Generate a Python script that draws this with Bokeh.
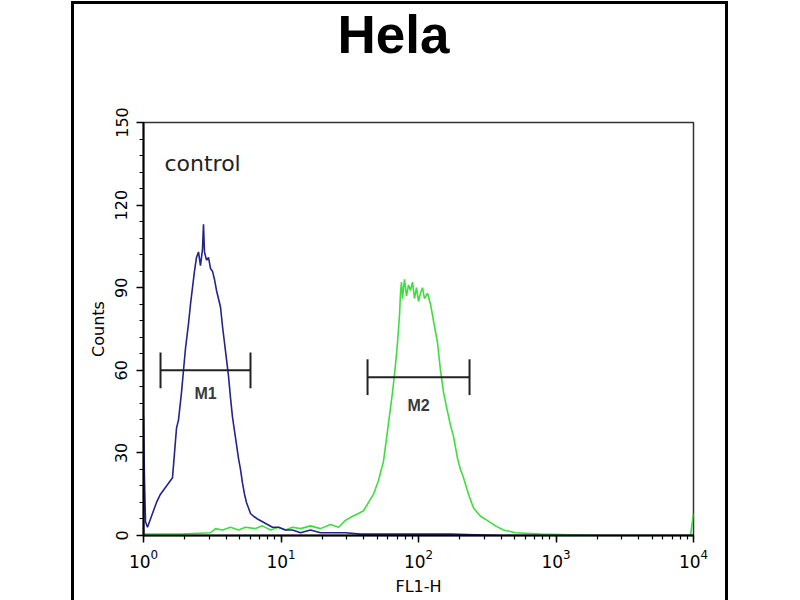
from bokeh.plotting import figure
from bokeh.models import (FixedTicker, LogTicker, Label, ColumnDataSource, Range1d, Title,
                          InlineStyleSheet)
from bokeh.core.properties import value
from bokeh.embed import file_html
from bokeh.resources import INLINE

title_text = "Hela"
x_label = "FL1-H"
y_label = "Counts"
sample_label = "control"

y_ticks = [0, 30, 60, 90, 120, 150]
y_minor = [6, 12, 18, 24, 36, 42, 48, 54, 66, 72, 78, 84, 96, 102, 108, 114, 126, 132, 138, 144]

# control histogram (blue)
ctrl_x = [1.0, 1.0, 1.017, 1.034, 1.069, 1.124, 1.182, 1.243, 1.329, 1.421, 1.520, 1.625, 1.681, 1.738,
          1.797, 1.890, 1.954, 2.021, 2.125, 2.197, 2.272, 2.349, 2.429, 2.512, 2.597, 2.686, 2.731,
          2.777, 2.872, 2.970, 3.071, 3.175, 3.284, 3.395, 3.511, 3.631, 3.754, 3.882, 4.015, 4.151,
          4.293, 4.439, 4.590, 4.747, 4.909, 5.076, 5.248, 5.427, 5.612, 5.803, 6.001, 6.310, 6.748,
          7.337, 7.976, 8.675, 9.590, 10.78, 12.12, 13.87, 16.39, 19.38, 22.91, 29.45, 37.86, 73.96,
          170.9, 394.8, 10000]
ctrl_y = [0, 43, 20, 5, 3, 6, 9, 12, 15, 17, 19, 21, 30, 39,
          42, 52, 60, 68, 77, 84, 90, 96, 101, 103, 98, 104, 113,
          103, 100, 101, 97, 96, 93, 89, 86, 83, 76, 70, 64, 58,
          50, 43, 38, 33, 28, 24, 19, 15, 12, 10, 8, 7, 6,
          5, 4, 3, 3, 2, 2, 1, 2, 1, 1, 1, 0.5, 0.5,
          0.5, 0, 0]

# stained histogram (green)
stain_x = [1.0, 1.858, 3.071, 3.340, 3.754, 4.293, 4.909, 5.518, 6.525, 7.337, 8.387, 9.590, 10.78,
           12.12, 13.87, 16.39, 19.38, 22.91, 26.19, 29.45, 33.11, 36.62, 39.81, 43.30, 47.08, 51.17,
           55.66, 59.51, 64.71, 68.04, 70.36, 72.75, 73.96, 75.22, 76.48, 79.10, 81.79, 84.57, 87.45,
           90.43, 93.52, 96.70, 100.0, 103.4, 106.9, 110.6, 116.3, 122.3, 128.5, 137.5, 144.5, 152.0,
           162.5, 170.9, 179.7, 192.1, 202.1, 212.5, 231.0, 251.2, 282.4, 317.6, 363.1, 415.1, 507.6,
           771.6, 2107, 9507, 10000]
stain_y = [0.5, 0.5, 1, 2.5, 2, 3, 2, 3, 2.5, 3.5, 2, 3, 2,
           3, 2.5, 3.5, 2.5, 4, 3, 5.5, 7, 8, 9, 12, 15, 20,
           27, 38, 52, 62, 70, 80, 88, 92, 86, 93, 87, 91, 89,
           92, 86, 90, 85, 88, 90, 86, 88, 84, 78, 70, 60, 52,
           45, 40, 36, 28, 24, 21, 15, 10, 7, 5.4, 3.5, 2, 1,
           0.5, 0, 0, 8]

# marker gates
gate_names = ["M1", "M2"]
gate_left = [1.33, 42.6]
gate_right = [6.0, 235.0]
gate_y = [60, 57.5]
gate_half = [6.5, 6.5]
gate_label_drop = [8.6, 10.3]

p = figure(width=800, height=600, output_backend="svg", toolbar_location=None,
           x_axis_type="log", x_range=Range1d(1, 10000), y_range=Range1d(0, 150),
           min_border_left=143, min_border_right=107, min_border_top=122, min_border_bottom=65)

p.grid.visible = False
p.background_fill_color = "white"
p.border_fill_color = "white"
p.outline_line_color = "#333333"
p.outline_line_width = 1.5

# y axis
yax = p.yaxis[0]
yax.ticker = FixedTicker(ticks=y_ticks, minor_ticks=y_minor)
yax.major_label_orientation = "vertical"
yax.axis_label = y_label
xax = p.xaxis[0]
xax.ticker = LogTicker(num_minor_ticks=10, desired_num_ticks=5)
xax.axis_label = x_label
for ax in (xax, yax):
    ax.axis_line_color = "black"
    ax.axis_line_width = 2
    ax.major_tick_line_color = "black"
    ax.major_tick_line_width = 1.5
    ax.minor_tick_line_color = "black"
    ax.minor_tick_line_width = 1.2
    ax.major_tick_in = 0
    ax.major_tick_out = 7
    ax.minor_tick_in = 0
    ax.minor_tick_out = 4
    ax.major_label_text_font = "DejaVu Sans"
    ax.major_label_text_font_size = "16px"
    ax.major_label_text_color = "black"
    ax.axis_label_text_font = "DejaVu Sans"
    ax.axis_label_text_font_size = "16px"
    ax.axis_label_text_font_style = "normal"
    ax.axis_label_text_color = "black"
yax.major_label_standoff = 9
yax.axis_label_standoff = 5
xax.major_label_text_font_size = "17px"
xax.major_label_standoff = 6
xax.axis_label_standoff = 6

# title: a blank spacer row next to the frame, then the title text on top
p.add_layout(Title(text=" ", text_font_size="10px", standoff=46), "above")
p.add_layout(Title(text=title_text, text_font="Liberation Sans", text_font_style="bold",
                   text_font_size="53px", text_color="black", align="left", offset=194,
                   standoff=0), "above")

# histograms
p.line(stain_x, stain_y, line_color="#3ede3e", line_width=1.6)
p.line(ctrl_x, ctrl_y, line_color="#23238c", line_width=1.6)

# gates
gsrc = ColumnDataSource(dict(
    name=gate_names,
    l=gate_left, r=gate_right, y=gate_y,
    y0=[a - b for a, b in zip(gate_y, gate_half)],
    y1=[a + b for a, b in zip(gate_y, gate_half)],
    xm=[(a * b) ** 0.5 for a, b in zip(gate_left, gate_right)],
    ym=[a - b for a, b in zip(gate_y, gate_label_drop)],
))
p.segment(x0="l", y0="y", x1="r", y1="y", source=gsrc, line_color="#222222", line_width=2)
p.segment(x0="l", y0="y0", x1="l", y1="y1", source=gsrc, line_color="#222222", line_width=2)
p.segment(x0="r", y0="y0", x1="r", y1="y1", source=gsrc, line_color="#222222", line_width=2)
p.text(x="xm", y="ym", text="name", source=gsrc, text_align="center", text_baseline="middle",
       text_font=value("Liberation Sans"), text_font_style="bold", text_font_size="16px",
       text_color="#3a3a3a")

p.add_layout(Label(x=1.42, y=135, text=sample_label, text_baseline="middle",
                   text_font="DejaVu Sans", text_font_size="22px", text_color="#222222"))

# outer panel border (decoration around the whole figure)
p.stylesheets = [InlineStyleSheet(css="""
:host { position: relative; overflow: hidden; }
:host::after { content: ''; position: absolute; left: 71px; top: 1px; width: 657px; height: 599px;
  border: 3px solid black; border-bottom: none; box-sizing: border-box; pointer-events: none; z-index: 10; }
""")]

open("out.html", "w").write(file_html(p, INLINE))
